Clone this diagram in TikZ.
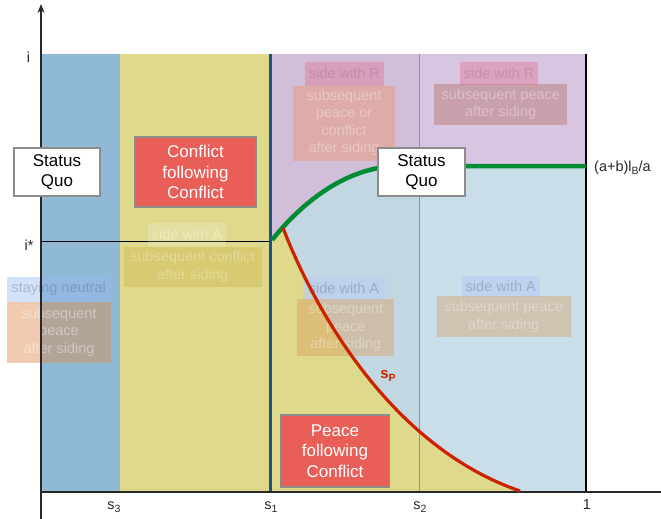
\documentclass[tikz,border=0pt]{standalone}
\usepackage{fontspec}
\setmainfont{Liberation Sans}
\usetikzlibrary{arrows.meta}
\definecolor{bluereg}{RGB}{143,185,212}
\definecolor{yellowreg}{RGB}{223,217,140}
\definecolor{purplereg}{RGB}{216,197,225}
\definecolor{lightbluereg}{RGB}{202,222,234}
\definecolor{boxred}{RGB}{234,94,88}
\definecolor{boxgray}{RGB}{140,140,140}
\definecolor{greencurve}{RGB}{0,140,50}
\definecolor{redcurve}{RGB}{204,34,0}
\definecolor{sonebluee}{RGB}{30,80,140}
\definecolor{stwoline}{RGB}{130,150,170}
\definecolor{axisgray}{RGB}{40,40,40}
\definecolor{fgold}{RGB}{205,175,60}
\definecolor{fblue}{RGB}{150,185,245}
\definecolor{forange}{RGB}{225,140,80}
\definecolor{fpink}{RGB}{225,120,150}
\definecolor{fsalmon}{RGB}{240,150,110}
\definecolor{fbrown}{RGB}{180,110,100}
\definecolor{fsideA}{RGB}{185,205,245}
\definecolor{ftan}{RGB}{215,160,100}
\definecolor{fgraytext}{RGB}{90,100,120}
\definecolor{fpinktext}{RGB}{140,100,130}
\newcommand\lowsub[1]{\raisebox{-0.22em}{\fontsize{10.5}{10.5}\selectfont #1}}
\begin{document}
\begin{tikzpicture}[x=1pt,y=-1pt,
  solidbox/.style={draw=boxgray, line width=1.5pt, align=center, inner sep=0pt, font=\fontsize{17}{20.5}\selectfont},
  quobox/.style={solidbox, fill=white, text=black},
  redbox/.style={solidbox, fill=boxred, text=white},
  fadebox/.style={inner sep=0pt, align=center, font=\fontsize{14.5}{17.5}\selectfont},
  whitefade/.style={text=white, text opacity=0.4},
  axlabel/.style={inner sep=0pt, font=\fontsize{14.5}{16}\selectfont, text=axisgray}
]
\useasboundingbox (0,0) rectangle (661,519);
% regions
\fill[bluereg] (41,54) rectangle (120,492);
\fill[yellowreg] (120,54) rectangle (270,492);
\fill[purplereg] (270,54) rectangle (586,250);
\fill[lightbluereg] (270,240) -- (272,240) .. controls (300,205) and (345,166) .. (400,166) -- (586,166) -- (586,492) -- (270,492) -- cycle;
\fill[black, opacity=0.03] (270,54) rectangle (419,492);
\fill[yellowreg] (270,240) -- (283,228) .. controls (318,318) and (395,448) .. (520,491) -- (520,492) -- (270,492) -- cycle;
% coordinates
\coordinate (O) at (41,492);
\coordinate (ytop) at (41,4);
\coordinate (ybot) at (41,519);
\coordinate (xend) at (661,492);
\coordinate (s1t) at (270,54);
\coordinate (s1b) at (270,492);
\coordinate (s2t) at (419,54);
\coordinate (s2b) at (419,492);
\coordinate (onet) at (586,54);
\coordinate (oneb) at (586,492);
\coordinate (istar) at (41,241);
\coordinate (istarR) at (270,241);
% vertical lines
\draw[stwoline, line width=1pt] (s2t) -- (s2b);
\draw[black, line width=1.3pt] (onet) -- (oneb);
\draw[black, line width=0.8pt] (istar) -- (istarR);
% faded boxes
\node[fadebox, fill=white, fill opacity=0.18, whitefade, text opacity=0.35, minimum width=78pt, minimum height=24pt] (sideAone) at (187,234.7) {side with A};
\node[fadebox, fill=fgold, fill opacity=0.35, whitefade, text opacity=0.3, minimum width=138pt, minimum height=40pt] (subconf) at (192.5,266.7) {subsequent conflict\\after siding};
\node[fadebox, fill=fblue, fill opacity=0.42, text=fgraytext, text opacity=0.35, minimum width=103pt, minimum height=25pt] (neutral) at (58.7,289) {staying neutral};
\node[fadebox, fill=forange, fill opacity=0.45, whitefade, minimum width=104pt, minimum height=61pt] (peaceL) at (59,332) {subsequent\\peace\\after siding};
\node[fadebox, fill=fpink, fill opacity=0.45, text=fpinktext, text opacity=0.3, minimum width=79pt, minimum height=24pt] (sideRone) at (344.5,73.7) {side with R};
\node[fadebox, fill=fsalmon, fill opacity=0.45, whitefade, text opacity=0.35, minimum width=102pt, minimum height=75pt] (subPC) at (344,123) {subsequent\\peace or\\conflict\\after siding};
\node[fadebox, fill=fpink, fill opacity=0.45, text=fpinktext, text opacity=0.3, minimum width=78pt, minimum height=23.5pt] (sideRtwo) at (499,73.3) {side with R};
\node[fadebox, fill=fbrown, fill opacity=0.42, whitefade, text opacity=0.35, minimum width=133pt, minimum height=41pt] (subPRtop) at (500.8,104.5) {subsequent peace\\after siding};
\node[fadebox, fill=fsideA, fill opacity=0.6, text=fgraytext, text opacity=0.35, minimum width=82pt, minimum height=23pt] (sideAtwo) at (344,288) {side with A};
\node[fadebox, fill=ftan, fill opacity=0.45, whitefade, text opacity=0.35, minimum width=97pt, minimum height=57pt] (subPmid) at (345.8,327.3) {subsequent\\peace\\after siding};
\node[fadebox, fill=fsideA, fill opacity=0.6, text=fgraytext, text opacity=0.35, minimum width=78pt, minimum height=21.3pt] (sideAthree) at (500.8,286.7) {side with A};
\node[fadebox, fill=ftan, fill opacity=0.42, whitefade, text opacity=0.35, minimum width=134pt, minimum height=41.3pt] (subPR) at (503.7,316.7) {subsequent peace\\after siding};
% s1 line
\draw[sonebluee, line width=3pt] (s1t) -- (s1b);
% axes
\draw[axisgray, line width=1.5pt] (O) -- (xend);
\draw[axisgray, line width=1.5pt, -{Stealth[length=9pt,width=7pt]}] (ybot) -- (ytop);
% curves
\draw[greencurve, line width=4.5pt] (272,240) .. controls (300,205) and (345,166) .. (400,166) -- (586,166);
\draw[redcurve, line width=3.2pt] (283,228) .. controls (318,318) and (395,448) .. (520,491);
% solid boxes
\node[quobox, minimum width=86pt, minimum height=48pt] (sqone) at (57,172) {Status\\Quo};
\node[redbox, minimum width=121pt, minimum height=70pt] (cfc) at (195.5,172) {Conflict\\following\\Conflict};
\node[quobox, minimum width=87pt, minimum height=48pt] (sqtwo) at (421.5,172) {Status\\Quo};
\node[redbox, minimum width=108.6pt, minimum height=71.7pt] (pfc) at (335,451) {Peace\\following\\Conflict};
% axis labels
\node[axlabel] (li) at (28.5,57) {i};
\node[axlabel] (listar) at (29,245) {i*};
\node[axlabel] (ls3) at (114,507) {s\lowsub{3}};
\node[axlabel] (ls1) at (271,507) {s\lowsub{1}};
\node[axlabel] (ls2) at (420,507) {s\lowsub{2}};
\node[axlabel] (lone) at (587,505) {1};
\node[axlabel, anchor=west] (lab) at (594,168) {(a+b)l\lowsub{B}/a};
\node[inner sep=0pt, text=redcurve, font=\bfseries\fontsize{15}{15}\selectfont] (lsp) at (388,376) {s\lowsub{\bfseries P}};
\end{tikzpicture}
\end{document}
